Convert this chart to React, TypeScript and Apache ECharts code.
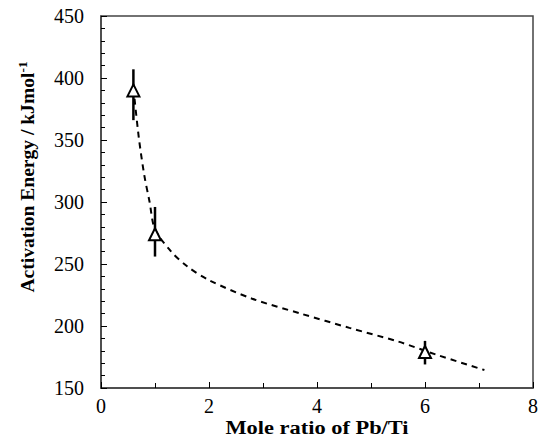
import React, { useEffect, useRef } from "react";
import * as echarts from "echarts";

const pointX = [0.6, 1.0, 6.0];
const pointY = [390, 274, 179];
const errLow = [366, 256, 169];
const errHigh = [407, 296, 188];

const curveX = [0.6, 0.7, 0.8, 0.9, 1.0, 1.3, 1.6, 2.0, 2.8, 3.7, 4.6, 5.5, 6.2, 7.1];
const curveY = [392, 352, 322, 300, 278, 260, 248, 237, 222, 210, 198.5, 187.5, 177, 164.5];

const xTicks = [0, 2, 4, 6, 8];
const yTicks = [150, 200, 250, 300, 350, 400, 450];

const xTitle = "Mole ratio of Pb/Ti";
const yTitle = "Activation Energy / kJmol";
const yTitleSup = "-1";

export default function App() {
  const ref = useRef<HTMLDivElement>(null);
  useEffect(() => {
    if (!ref.current) return;
    const chart = echarts.init(ref.current, null, { renderer: "svg" });
    const font = "Liberation Serif";
    const axisColor = "#444";
    chart.setOption({
      animation: false,
      backgroundColor: "#fff",
      textStyle: { fontFamily: font },
      grid: {
        left: 101,
        right: 10,
        top: 16,
        bottom: 50,
        show: true,
        borderColor: axisColor,
        borderWidth: 1.5,
      },
      xAxis: {
        type: "value",
        min: xTicks[0],
        max: xTicks[xTicks.length - 1],
        interval: 2,
        axisLine: { show: true, lineStyle: { color: axisColor, width: 1.5 } },
        axisTick: { show: true, inside: true, length: 6, lineStyle: { color: "#000" } },
        minorTick: { show: true, splitNumber: 2, length: 5, lineStyle: { color: "#000" } },
        splitLine: { show: false },
        axisLabel: { color: "#000", fontFamily: font, fontSize: 20, margin: 8 },
      },
      yAxis: {
        type: "value",
        min: yTicks[0],
        max: yTicks[yTicks.length - 1],
        interval: 50,
        axisLine: { show: true, lineStyle: { color: axisColor, width: 1.5 } },
        axisTick: { show: true, inside: true, length: 6, lineStyle: { color: "#000" } },
        minorTick: { show: true, splitNumber: 5, length: 4, lineStyle: { color: "#000" } },
        splitLine: { show: false },
        axisLabel: { color: "#000", fontFamily: font, fontSize: 20, margin: 17 },
      },
      graphic: [
        {
          type: "text",
          x: 317,
          y: 427,
          scaleX: 1.18,
          style: {
            text: xTitle,
            align: "center",
            verticalAlign: "middle",
            fill: "#000",
            fontFamily: font,
            fontSize: 19,
            fontWeight: "bold",
          },
        },
        {
          type: "text",
          x: 28,
          y: 177,
          rotation: Math.PI / 2,
          scaleX: 1.03,
          style: {
            text: "{a|" + yTitle + "}{b|" + yTitleSup + "}",
            align: "center",
            verticalAlign: "middle",
            fill: "#000",
            fontFamily: font,
            rich: {
              a: { fontFamily: font, fontSize: 19, fontWeight: "bold", fill: "#000" },
              b: {
                fontFamily: font,
                fontSize: 13,
                fontWeight: "bold",
                fill: "#000",
                verticalAlign: "top",
                padding: [0, 0, 10, 0],
              },
            },
          },
        },
      ],
      series: [
        {
          type: "line",
          data: curveX.map((x, i) => [x, curveY[i]]),
          smooth: 0.3,
          showSymbol: false,
          symbol: "none",
          lineStyle: { color: "#000", width: 2, type: [6, 5] },
          z: 2,
        },
        {
          type: "custom",
          data: pointX.map((x, i) => [x, errLow[i], errHigh[i]]),
          encode: { x: 0, y: [1, 2] },
          renderItem: (params: any, api: any) => {
            const x = api.value(0);
            const p1 = api.coord([x, api.value(1)]);
            const p2 = api.coord([x, api.value(2)]);
            return {
              type: "line",
              shape: { x1: p1[0], y1: p1[1], x2: p2[0], y2: p2[1] },
              style: { stroke: "#000", lineWidth: 2.5 },
            };
          },
          z: 3,
        },
        {
          type: "scatter",
          data: pointX.map((x, i) => [x, pointY[i]]),
          symbol: "triangle",
          symbolSize: 12,
          itemStyle: { color: "#fff", borderColor: "#000", borderWidth: 2, opacity: 1 },
          z: 4,
        },
      ],
    });
    return () => chart.dispose();
  }, []);
  return (
    <div
      ref={ref}
      style={{ position: "fixed", left: 0, top: 0, width: 543, height: 438, background: "#fff" }}
    />
  );
}
